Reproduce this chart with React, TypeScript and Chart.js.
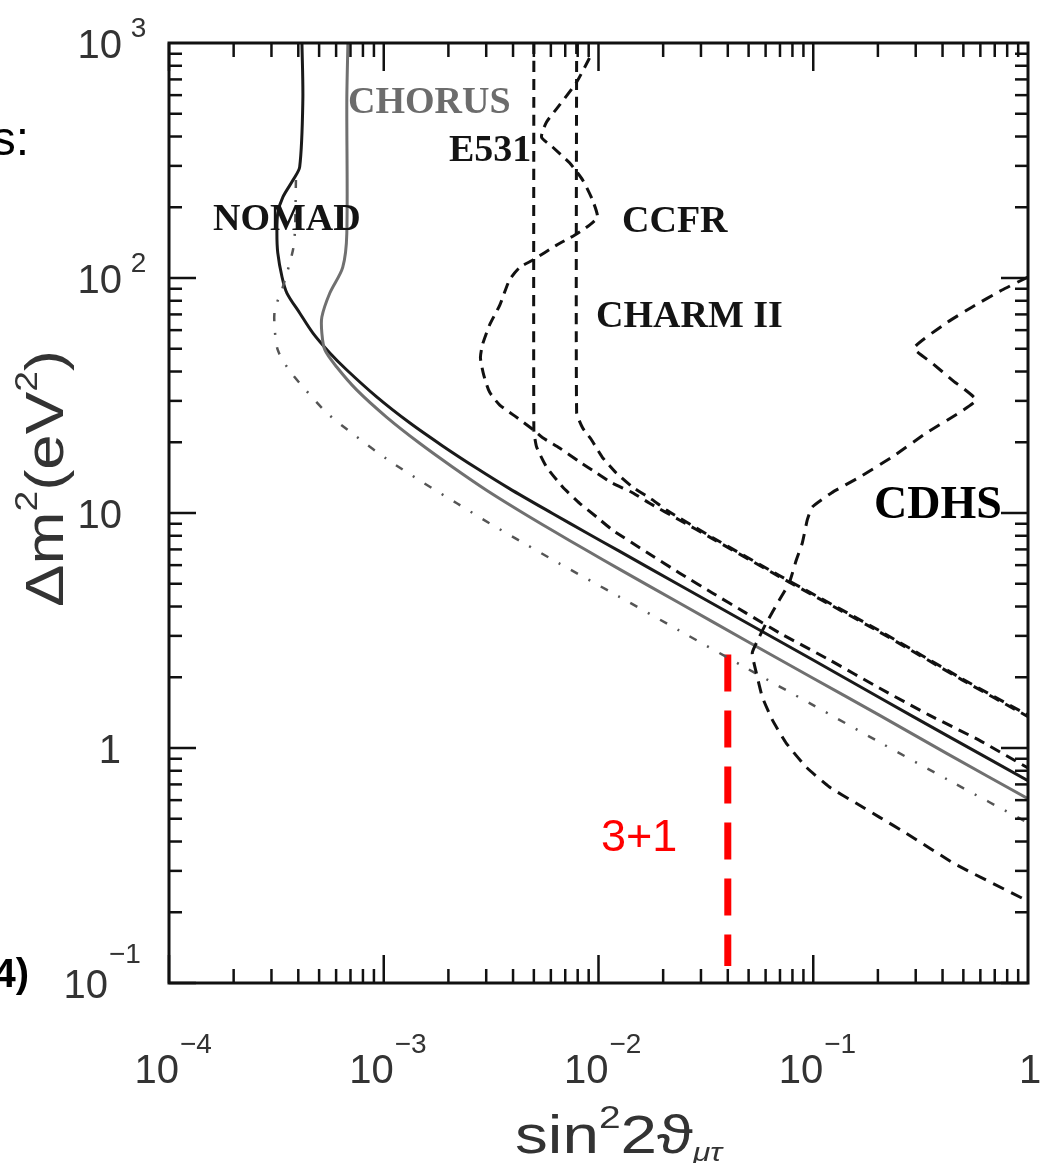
import React, { useEffect, useRef } from "react";
import { Chart, registerables } from "chart.js";

Chart.register(...registerables);

// ---- Data (sin^2 2theta, delta m^2 in eV^2) ----
const nomadX = [4.16e-4, 4.2e-4, 4.06e-4, 3.78e-4, 3.39e-4, 3.21e-4, 3.18e-4, 3.21e-4, 3.36e-4, 3.54e-4, 4.06e-4, 4.68e-4, 5.61e-4, 6.73e-4, 9.27e-4, 1.32e-3, 1.88e-3, 2.71e-3, 3.85e-3, 6.11e-3, 8.79e-3, 0.0125, 0.0238, 0.0487, 0.0989, 0.203, 0.416, 1.0];
const nomadY = [1000, 572, 297, 261, 221, 189, 155, 128, 101, 86.3, 71.0, 58.3, 48.0, 40.6, 31.2, 24.2, 19.3, 15.5, 12.7, 9.95, 8.24, 6.88, 4.94, 3.42, 2.38, 1.64, 1.135, 0.726];

const chorusX = [6.81e-4, 6.73e-4, 6.73e-4, 6.44e-4, 5.61e-4, 5.15e-4, 5.15e-4, 5.32e-4, 6.04e-4, 7.48e-4, 1.03e-3, 1.47e-3, 2.09e-3, 3.01e-3, 4.3e-3, 6.11e-3, 8.79e-3, 0.0125, 0.0238, 0.0487, 0.0989, 0.203, 0.416, 1.0];
const chorusY = [1000, 572, 155, 111, 86.3, 68.2, 58.3, 49.4, 41.8, 33.4, 25.6, 19.8, 15.7, 12.5, 10.2, 8.42, 6.94, 5.77, 4.14, 2.86, 1.99, 1.38, 0.951, 0.608];

const sensX = [3.9e-4, 3.86e-4, 3.78e-4, 3.39e-4, 3.11e-4, 3.11e-4, 3.21e-4, 3.57e-4, 4.06e-4, 5.43e-4, 7.48e-4, 1.04e-3, 1.52e-3, 2.19e-3, 3.11e-3, 4.53e-3, 6.44e-3, 0.0125, 0.0238, 0.0487, 0.0989, 0.203, 0.43, 1.0];
const sensY = [261, 160, 132, 91.6, 73.1, 60.1, 49.4, 41.4, 35.7, 26.7, 21.1, 16.9, 13.5, 11.0, 9.04, 7.41, 6.16, 4.4, 3.16, 2.19, 1.53, 1.06, 0.727, 0.48];

const e531X = [0.005, 0.005, 5.15e-3, 5.73e-3, 6.81e-3, 8.17e-3, 9.8e-3, 0.0116, 0.0167, 0.0238, 0.0339, 0.0487, 0.0695, 0.119, 0.203, 0.347, 0.592, 1.0];
const e531Y = [1000, 22.5, 19.1, 15.7, 12.9, 11.0, 9.62, 8.47, 6.82, 5.56, 4.57, 3.75, 3.09, 2.37, 1.8, 1.38, 1.08, 0.822];

const ccfrX = [9.08e-3, 7.91e-3, 6.59e-3, 5.73e-3, 5.43e-3, 6.11e-3, 7.33e-3, 8.44e-3, 9.37e-3, 9.89e-3, 9.08e-3, 7.73e-3, 6.38e-3, 4.93e-3, 4.3e-3, 3.85e-3, 3.47e-3, 3.11e-3, 2.88e-3, 2.82e-3, 2.92e-3, 3.11e-3, 3.47e-3, 4.07e-3, 5.0e-3, 5.5e-3, 6.59e-3, 8.17e-3, 9.8e-3, 0.0116, 0.0144, 0.0173, 0.0238, 0.0339, 0.0695, 0.203, 0.493, 1.0];
const ccfrY = [863, 682, 545, 461, 398, 361, 309, 261, 215, 182, 168, 152, 138, 119, 111, 98.0, 76.7, 63.1, 51.9, 45.7, 38.7, 32.7, 28.8, 25.9, 22.5, 20.9, 18.9, 16.5, 14.8, 13.4, 12.2, 11.0, 9.34, 7.78, 5.36, 3.12, 1.95, 1.36];

const charmX = [7.91e-3, 7.91e-3, 8.44e-3, 9.27e-3, 0.0104, 0.0121, 0.0144, 0.0178, 0.0207, 0.0339, 0.0695, 0.203, 0.493, 1.0];
const charmY = [1000, 26.7, 23.0, 20.5, 17.3, 14.8, 12.9, 11.4, 10.3, 7.87, 5.42, 3.16, 1.97, 1.38];

const cdhsX = [1.0, 0.757, 0.55, 0.416, 0.295, 0.357, 0.444, 0.573, 0.478, 0.336, 0.233, 0.164, 0.122, 0.0989, 0.0938, 0.0889, 0.0834, 0.0773, 0.0695, 0.0604, 0.0561, 0.052, 0.0543, 0.0579, 0.0644, 0.0748, 0.0927, 0.119, 0.158, 0.203, 0.271, 0.457, 1.0];
const cdhsY = [101, 88.9, 75.3, 64.3, 50.4, 43.5, 36.8, 30.3, 26.7, 21.9, 17.3, 14.2, 12.2, 10.6, 9.34, 7.45, 6.31, 5.04, 4.26, 3.4, 2.97, 2.54, 2.09, 1.65, 1.32, 1.05, 0.83, 0.682, 0.583, 0.508, 0.434, 0.321, 0.223];

const redX = [0.04, 0.04];
const redY = [2.5, 0.118];

const xTickExponents = [-4, -3, -2, -1, 0];
const yTickExponents = [-1, 0, 1, 2, 3];
const minorMultipliers = [1, 2, 3, 4, 5, 6, 7, 8, 9];

const SANS = '"Liberation Sans", "DejaVu Sans", Arial, sans-serif';
const SERIF = '"Liberation Serif", "Times New Roman", serif';

function pts(xs: number[], ys: number[]) {
  return xs.map((x, i) => ({ x, y: ys[i] }));
}

function line(ctx: CanvasRenderingContext2D, x1: number, y1: number, x2: number, y2: number) {
  ctx.beginPath();
  ctx.moveTo(x1, y1);
  ctx.lineTo(x2, y2);
  ctx.stroke();
}

type Piece = { t: string; font: string; dy: number };

function drawPieces(ctx: CanvasRenderingContext2D, pieces: Piece[], targetLen: number) {
  let total = 0;
  const widths = pieces.map((p) => {
    ctx.font = p.font;
    const w = ctx.measureText(p.t).width;
    total += w;
    return w;
  });
  const sx = targetLen / total;
  ctx.save();
  ctx.scale(sx, 1);
  let x = 0;
  pieces.forEach((p, i) => {
    ctx.font = p.font;
    ctx.fillText(p.t, x, p.dy);
    x += widths[i];
  });
  ctx.restore();
}

const decorPlugin = {
  id: "decor",
  afterDraw(chart: any) {
    const ctx: CanvasRenderingContext2D = chart.ctx;
    const xs = chart.scales.x;
    const ys = chart.scales.y;
    const { left, right, top, bottom } = chart.chartArea;
    ctx.save();

    // Curve labels
    ctx.textAlign = "left";
    ctx.textBaseline = "alphabetic";
    ctx.fillStyle = "#141414";
    ctx.font = `bold 38px ${SERIF}`;
    ctx.fillText("NOMAD", 213, 230);
    ctx.fillText("E531", 449, 161);
    ctx.fillText("CCFR", 622, 232);
    ctx.fillText("CHARM II", 596, 327);
    ctx.fillStyle = "#6c6c6c";
    ctx.fillText("CHORUS", 348, 113);
    ctx.fillStyle = "#000";
    ctx.font = `bold 46px ${SERIF}`;
    ctx.fillText("CDHS", 874, 518);

    ctx.fillStyle = "#ff0000";
    ctx.font = `45px ${SANS}`;
    ctx.fillText("3+1", 601, 851);

    // slide fragments at left edge
    ctx.fillStyle = "#000";
    ctx.textAlign = "right";
    ctx.font = `48px ${SANS}`;
    ctx.fillText("s:", 29, 155);
    ctx.font = `bold 40px ${SANS}`;
    ctx.fillText("4)", 29, 987);

    // Frame and ticks
    ctx.strokeStyle = "#111";
    ctx.lineWidth = 2.5;
    for (let e = xTickExponents[0]; e < xTickExponents[xTickExponents.length - 1]; e++) {
      for (const m of minorMultipliers) {
        const px = xs.getPixelForValue(m * Math.pow(10, e));
        const len = m === 1 ? 28 : 14;
        line(ctx, px, bottom, px, bottom - len);
        line(ctx, px, top, px, top + len);
      }
    }
    for (let e = yTickExponents[0]; e < yTickExponents[yTickExponents.length - 1]; e++) {
      for (const m of minorMultipliers) {
        const py = ys.getPixelForValue(m * Math.pow(10, e));
        const len = m === 1 ? 27 : 13;
        line(ctx, left, py, left + len, py);
        line(ctx, right, py, right - len, py);
      }
    }
    ctx.lineWidth = 3;
    ctx.strokeRect(left, top, right - left, bottom - top);

    // Tick labels
    ctx.fillStyle = "#333";
    ctx.textAlign = "left";
    const drawPow = (exp: number, right10: number, base: number, raise: number) => {
      ctx.font = `40px ${SANS}`;
      const w10 = ctx.measureText("10").width;
      ctx.fillText("10", right10 - w10, base);
      ctx.font = `28px ${SANS}`;
      const sup = exp > 0 ? " " + exp : "\u2212" + Math.abs(exp);
      ctx.fillText(sup, right10 + 1, base - raise);
    };
    for (const e of yTickExponents) {
      const py = ys.getPixelForValue(Math.pow(10, e));
      const base = py + 15;
      if (e === 0) {
        ctx.font = `40px ${SANS}`;
        const w = ctx.measureText("1").width;
        ctx.fillText("1", left - 48 - w, base);
      } else if (e === 1) {
        ctx.font = `40px ${SANS}`;
        const w = ctx.measureText("10").width;
        ctx.fillText("10", left - 47 - w, base);
      } else if (e > 0) {
        drawPow(e, left - 47, base, 21);
      } else {
        drawPow(e, left - 61, base, 35);
      }
    }
    for (const e of xTickExponents) {
      const px = xs.getPixelForValue(Math.pow(10, e));
      const base = bottom + 100;
      if (e === 0) {
        ctx.font = `40px ${SANS}`;
        const w = ctx.measureText("1").width;
        ctx.fillText("1", px + 2 - w / 2, base);
      } else {
        drawPow(e, px + 10, base, 30);
      }
    }

    // X axis title
    ctx.save();
    ctx.translate(515, 1153);
    drawPieces(
      ctx,
      [
        { t: "sin", font: `54px ${SANS}`, dy: 0 },
        { t: "2", font: `32px ${SANS}`, dy: -25 },
        { t: "2", font: `54px ${SANS}`, dy: 0 },
        { t: "\u03D1", font: `54px ${SANS}`, dy: 0 },
        { t: "\u03BC\u03C4", font: `italic 26px ${SANS}`, dy: 8 },
      ],
      207
    );
    ctx.restore();

    // Y axis title (rotated)
    ctx.save();
    ctx.translate(63, 607);
    ctx.rotate(-Math.PI / 2);
    drawPieces(
      ctx,
      [
        { t: "\u0394m", font: `53px ${SANS}`, dy: 0 },
        { t: "2", font: `31px ${SANS}`, dy: -26 },
        { t: "(eV", font: `53px ${SANS}`, dy: 0 },
        { t: "2", font: `31px ${SANS}`, dy: -26 },
        { t: ")", font: `53px ${SANS}`, dy: 0 },
      ],
      257
    );
    ctx.restore();

    ctx.restore();
  },
};

export default function App() {
  const ref = useRef<HTMLCanvasElement>(null);
  useEffect(() => {
    if (!ref.current) return;
    const common = { showLine: true, pointRadius: 0, pointHoverRadius: 0, fill: false };
    const chart = new Chart(ref.current, {
      type: "scatter",
      data: {
        datasets: [
          { ...common, label: "CDHS", data: pts(cdhsX, cdhsY), borderColor: "#111", borderWidth: 3, borderDash: [12, 8], tension: 0.15 },
          { ...common, label: "E531", data: pts(e531X, e531Y), borderColor: "#111", borderWidth: 3, borderDash: [11, 7], tension: 0.15 },
          { ...common, label: "CCFR", data: pts(ccfrX, ccfrY), borderColor: "#111", borderWidth: 3, borderDash: [11, 7], tension: 0.2 },
          { ...common, label: "CHARM II", data: pts(charmX, charmY), borderColor: "#111", borderWidth: 3, borderDash: [11, 7], tension: 0.15 },
          { ...common, label: "sensitivity", data: pts(sensX, sensY), borderColor: "#555", borderWidth: 2.5, borderDash: [8, 12, 2, 12], tension: 0.3 },
          { ...common, label: "CHORUS", data: pts(chorusX, chorusY), borderColor: "#707070", borderWidth: 3, tension: 0.3 },
          { ...common, label: "NOMAD", data: pts(nomadX, nomadY), borderColor: "#1a1a1a", borderWidth: 3, tension: 0.3 },
          { ...common, label: "3+1", data: pts(redX, redY), borderColor: "#ff0000", borderWidth: 7, borderDash: [37, 19], tension: 0 },
        ],
      },
      options: {
        responsive: false,
        devicePixelRatio: 1,
        animation: false,
        layout: { padding: { left: 169, right: 15, top: 43, bottom: 180 } },
        scales: {
          x: { type: "logarithmic", min: 1e-4, max: 1, display: false },
          y: { type: "logarithmic", min: 0.1, max: 1000, display: false },
        },
        plugins: { legend: { display: false }, tooltip: { enabled: false } },
        events: [],
      },
      plugins: [decorPlugin],
    } as any);
    return () => chart.destroy();
  }, []);
  return (
    <div style={{ position: "absolute", left: 0, top: 0, width: 1043, height: 1163, background: "#fff" }}>
      <canvas ref={ref} width={1043} height={1163} style={{ display: "block" }} />
    </div>
  );
}
